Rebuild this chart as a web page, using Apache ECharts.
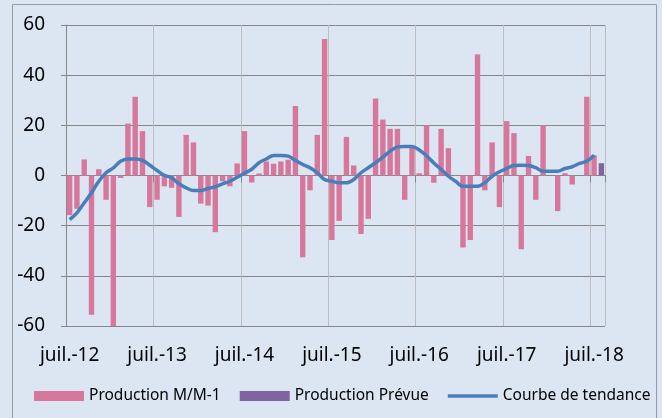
<!DOCTYPE html>
<html>
<head>
<meta charset="utf-8">
<script src="https://cdn.jsdelivr.net/npm/echarts@6/dist/echarts.min.js"></script>
<style>
html,body{margin:0;padding:0;background:#dce6f2;}
#chart{width:662px;height:418px;}
</style>
</head>
<body>
<div id="chart"></div>
<script>
// Monthly categories: juil. 2012 -> août 2018
var months = [
 '2012-07','2012-08','2012-09','2012-10','2012-11','2012-12',
 '2013-01','2013-02','2013-03','2013-04','2013-05','2013-06','2013-07','2013-08','2013-09','2013-10','2013-11','2013-12',
 '2014-01','2014-02','2014-03','2014-04','2014-05','2014-06','2014-07','2014-08','2014-09','2014-10','2014-11','2014-12',
 '2015-01','2015-02','2015-03','2015-04','2015-05','2015-06','2015-07','2015-08','2015-09','2015-10','2015-11','2015-12',
 '2016-01','2016-02','2016-03','2016-04','2016-05','2016-06','2016-07','2016-08','2016-09','2016-10','2016-11','2016-12',
 '2017-01','2017-02','2017-03','2017-04','2017-05','2017-06','2017-07','2017-08','2017-09','2017-10','2017-11','2017-12',
 '2018-01','2018-02','2018-03','2018-04','2018-05','2018-06','2018-07','2018-08'
];

var xTickLabels = ['juil.-12','juil.-13','juil.-14','juil.-15','juil.-16','juil.-17','juil.-18'];

var productionMM1 = [
 -15.8,-13.3,6.4,-55.5,2.5,-9.7,
 -60,-1,20.7,31.4,17.7,-12.6,-9.7,-4.3,-4.9,-16.5,16.2,13.2,
 -11.2,-12,-22.6,-2.3,-4.3,4.8,17.7,-2.8,0.8,5.6,4.7,5.6,
 6.3,27.7,-32.6,-5.9,16.2,54.4,-25.7,-18.1,15.4,4,-23.3,-17.3,
 30.7,22.3,18.6,18.6,-9.7,11.3,0.9,20,-2.9,18.6,10.9,0,
 -28.7,-25.7,48.3,-5.9,13.2,-12.6,21.7,16.9,-29.4,7.8,-9.7,20,
 0,-14.2,0.9,-3.6,0,31.4,8.1,null
];

var productionPrevue = [
 null,null,null,null,null,null,
 null,null,null,null,null,null,null,null,null,null,null,null,
 null,null,null,null,null,null,null,null,null,null,null,null,
 null,null,null,null,null,null,null,null,null,null,null,null,
 null,null,null,null,null,null,null,null,null,null,null,null,
 null,null,null,null,null,null,null,null,null,null,null,null,
 null,null,null,null,null,null,null,4.9
];

var tendance = [
 -17.6,-14.9,-10.9,-6.9,-2.3,1.1,
 3,5.7,6.6,6.6,6,4.1,2,0.1,-0.9,-3.3,-4.9,-6,
 -6,-5.2,-4.5,-3.3,-2.3,-0.7,0.9,2.5,5.1,6.6,8,8,
 7.7,6,4.4,3.1,1.1,-1.6,-2.3,-2.9,-2.9,-1.6,1.1,3.1,
 5.1,7.3,9.7,11.4,11.6,11.6,10.2,7.9,5,2.4,-0.3,-2.3,
 -4.3,-4.3,-4.3,-2.9,-0.3,1.5,2.8,4,4.1,4,3.1,1.7,
 1.7,1.7,2.8,3.5,4.8,5.7,8.1,null
];

var yearly = function (idx) { return idx % 12 === 0; };

var chart = echarts.init(document.getElementById('chart'), null, {renderer: 'canvas'});
var FONT = 'Noto Sans';
chart.setOption({
  backgroundColor: '#dce6f2',
  animation: false,
  textStyle: {fontFamily: FONT},
  graphic: [{
    type: 'rect', silent: true, z: -1,
    shape: {x: 12.5, y: 4.5, width: 644, height: 430},
    style: {fill: 'none', stroke: '#9a9a9a', lineWidth: 1}
  }],
  grid: {left: 66, right: 57, top: 25, bottom: 92, containLabel: false},
  legend: {
    left: 34, top: 388, padding: 0,
    itemWidth: 50, itemHeight: 10, itemGap: 19,
    textStyle: {fontFamily: FONT, fontSize: 15.5, color: '#000'},
    data: [
      {name: 'Production M/M-1', icon: 'rect'},
      {name: 'Production Prévue', icon: 'rect'},
      {name: 'Courbe de tendance', icon: 'path://M0,0H50V3.5H0Z'}
    ]
  },
  xAxis: [{
    type: 'category', data: months, boundaryGap: true,
    axisLine: {onZero: true, lineStyle: {color: '#878787', width: 1}},
    axisTick: {show: true, interval: yearly, length: 7, lineStyle: {color: '#878787'}},
    axisLabel: {show: false},
    splitLine: {show: false}
  }, {
    type: 'category', data: months, boundaryGap: true, position: 'bottom',
    axisLine: {show: false, onZero: false},
    axisTick: {show: false},
    axisLabel: {
      show: true, interval: yearly, margin: 20,
      fontFamily: FONT, fontSize: 19, color: '#000',
      formatter: function (v, idx) { return idx % 12 === 0 ? xTickLabels[idx / 12] : ''; }
    },
    splitLine: {show: true, interval: yearly, lineStyle: {color: '#bdbdbd', width: 1}}
  }],
  yAxis: {
    type: 'value', min: -60, max: 60, interval: 20,
    axisLine: {show: true, onZero: false, lineStyle: {color: '#878787'}},
    axisTick: {show: true, length: 5, lineStyle: {color: '#878787'}},
    axisLabel: {fontFamily: FONT, fontSize: 19, color: '#000', margin: 21},
    splitLine: {show: true, lineStyle: {color: '#878787', width: 1}}
  },
  series: [{
    name: 'Production M/M-1', type: 'bar', xAxisIndex: 0,
    data: productionMM1, barWidth: '74%', barGap: '-100%',
    itemStyle: {color: '#d7779b'}
  }, {
    name: 'Production Prévue', type: 'bar', xAxisIndex: 0,
    data: productionPrevue, barWidth: '74%', barGap: '-100%',
    itemStyle: {color: '#8064a2'}
  }, {
    name: 'Courbe de tendance', type: 'line', xAxisIndex: 0,
    data: tendance, smooth: 0.35, symbol: 'none', z: 5,
    lineStyle: {color: '#4a7ebb', width: 3.5},
    itemStyle: {color: '#4a7ebb'}
  }]
});
</script>
</body>
</html>
